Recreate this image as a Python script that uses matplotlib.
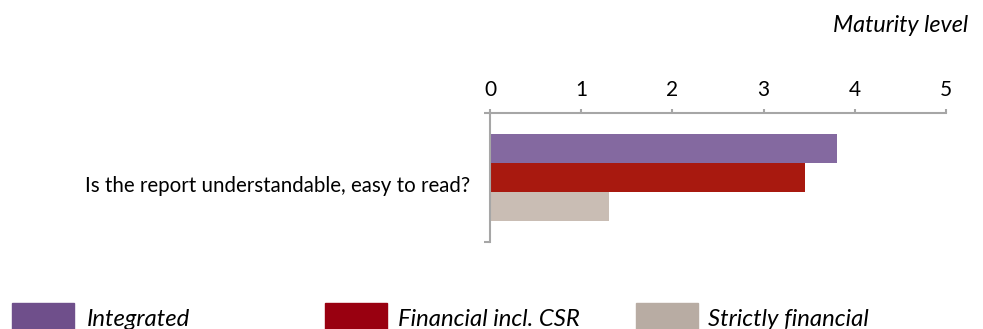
import matplotlib.pyplot as plt
from matplotlib.patches import Rectangle

W, H = 983, 329

question = "Is the report understandable, easy to read?"
series = ["Integrated", "Financial incl. CSR", "Strictly financial"]
values = [3.80, 3.45, 1.30]
bar_colors = ["#8469a0", "#a8190f", "#c9bdb4"]
legend_colors = ["#6f4f8b", "#990010", "#b8aca3"]
ticks = [0, 1, 2, 3, 4, 5]

FONT = ["Lato", "DejaVu Sans"]
AXIS_GREY = "#a6a6a6"

fig = plt.figure(figsize=(W / 100, H / 100), dpi=100)
ax = fig.add_axes([490 / W, 1 - 242 / H, 456 / W, 129 / H])

# bars, 0.29 units tall, stacked around the category centre
offsets = [-0.29, 0.0, 0.29]
for off, val, col in zip(offsets, values, bar_colors):
    ax.barh(off, val, height=0.29, color=col, edgecolor="none", zorder=2)

ax.set_xlim(0, 5)
ax.set_ylim(0.645, -0.645)
ax.set_xticks(ticks)
ax.xaxis.tick_top()
ax.tick_params(axis="x", direction="out", length=3, width=1.5, color=AXIS_GREY,
               labelsize=15, pad=6, labelcolor="#000000")
for lbl in ax.get_xticklabels():
    lbl.set_family(FONT)

ax.set_yticks([0.645, -0.645])
ax.set_yticklabels([])
ax.tick_params(axis="y", direction="out", length=4, width=1.5, color=AXIS_GREY)

for side in ("right", "bottom"):
    ax.spines[side].set_visible(False)
for side in ("top", "left"):
    ax.spines[side].set_color(AXIS_GREY)
    ax.spines[side].set_linewidth(1.5)

fig.text(470 / W, 1 - 186 / H, question, ha="right", va="center",
         fontsize=14.8, family=FONT, color="#000000")
fig.text(968 / W, 1 - 26 / H, "Maturity level", ha="right", va="center",
         fontsize=16.8, style="italic", family=FONT, color="#000000")

# legend along the bottom edge (partly cut off, as in the original)
patch_x = [12, 325, 636]
text_x = [87, 398, 708]
for px, tx, col, name in zip(patch_x, text_x, legend_colors, series):
    fig.patches.append(Rectangle((px / W, 1 - 335 / H), 62 / W, 32 / H,
                                 transform=fig.transFigure, color=col,
                                 edgecolor="none"))
    fig.text(tx / W, 1 - 326 / H, name, ha="left", va="baseline",
             fontsize=17.2, style="italic", family=FONT, color="#000000")

fig.savefig("out.png", dpi=100)
